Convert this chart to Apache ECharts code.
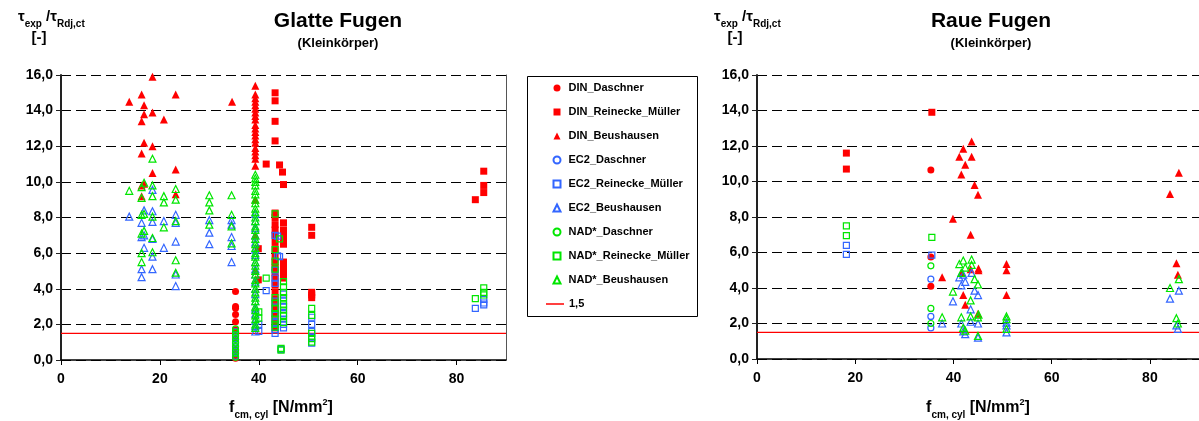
<!DOCTYPE html>
<html><head><meta charset="utf-8">
<script src="https://cdn.jsdelivr.net/npm/echarts@6/dist/echarts.min.js"></script>
<style>html,body{margin:0;padding:0;background:#fff}#c{width:1199px;height:421px}</style>
</head><body><div id="c"></div>
<script>
// ---------- axis ticks ----------
const xTicks = [0, 20, 40, 60, 80];
const yMin = 0, yMax = 16, yStep = 2;
const xMin = 0, xMax = 90;
const refLevel = 1.5;

const names = ['DIN_Daschner','DIN_Reinecke_Müller','DIN_Beushausen',
  'EC2_Daschner','EC2_Reinecke_Müller','EC2_Beushausen',
  'NAD*_Daschner','NAD*_Reinecke_Müller','NAD*_Beushausen'];
const refName = '1,5';

// ---------- Glatte Fugen (left) ----------
const gDINDasch = [[35.3,3.85],[35.3,3.0],[35.3,2.9],[35.3,2.55],[35.3,2.15],[35.3,1.7],[35.3,1.2],[35.3,0.6],[35.3,0.3],[35.3,0.1]];
const gDINRein = [[43.3,15.0],[43.3,14.55],[43.3,13.4],[43.3,12.3],[41.5,11.0],[44.2,10.95],[44.8,10.55],[45.0,9.85],
  [43.3,8.25],[43.3,8.0],[43.3,7.6],[43.3,7.3],[43.3,7.0],[43.3,6.6],[43.3,6.2],[43.3,5.8],[43.3,5.5],[43.3,5.2],[43.3,4.9],
  [43.3,4.6],[43.3,4.2],[43.3,3.8],[43.3,3.4],[43.3,3.0],[43.3,2.6],[43.3,2.2],[43.3,1.8],
  [45.0,7.7],[45.0,7.3],[45.0,7.1],[45.0,6.8],[45.0,6.5],[45.0,5.5],[45.0,5.2],[45.0,4.9],[45.0,4.6],
  [39.9,6.25],[39.9,4.5],[50.7,7.45],[50.7,7.0],[50.7,3.8],[50.7,3.65],[50.7,3.5],
  [85.5,10.6],[85.5,9.8],[85.5,9.4],[83.8,9.0]];
const gDINBeus = [[13.8,14.5],[16.3,14.9],[16.8,14.3],[16.8,13.8],[16.3,13.4],[16.8,12.2],[16.3,11.6],[16.3,9.8],[16.8,9.9],[16.3,9.2],
  [18.5,15.9],[18.5,13.9],[18.5,12.0],[18.5,10.5],[20.8,13.5],[23.2,14.9],[23.2,10.7],[23.2,9.3],[34.6,14.5],
  [39.3,15.4],[39.3,14.9],[39.3,14.7],[39.3,14.5],[39.3,14.3],[39.3,14.1],[39.3,13.9],[39.3,13.7],[39.3,13.5],[39.3,13.2],
  [39.3,13.0],[39.3,12.8],[39.3,12.6],[39.3,12.4],[39.3,12.2],[39.3,11.9],[39.3,11.7],[39.3,11.5],[39.3,11.3],[39.3,10.9],
  [39.3,9.0],[39.3,7.0],[39.3,5.0]];
const gEC2Dasch = [[35.3,1.6],[35.3,1.4],[35.3,1.2],[35.3,1.0],[35.3,0.8],[35.3,0.6],[35.3,0.4],[35.3,0.2]];
const gEC2Rein = [[43.8,6.95],[43.8,5.85],[43.3,7.0],[43.3,5.05],[44.2,5.8],[43.3,4.6],[43.3,4.3],[43.3,3.3],[43.3,2.9],[43.3,2.5],[43.3,2.1],[43.3,1.7],[43.3,1.5],
  [45.0,3.7],[45.0,3.3],[45.0,3.0],[45.0,2.6],[45.0,2.3],[45.0,2.0],[45.0,1.8],[41.5,3.9],[40.0,1.6],[40.0,2.0],[44.5,0.6],
  [50.7,2.4],[50.7,2.0],[50.7,1.6],[50.7,1.3],[50.7,0.95],[85.5,3.4],[85.5,3.2],[85.5,3.1],[83.8,2.9]];
const gEC2Beus = [[13.8,8.05],[16.3,7.7],[16.8,8.4],[18.5,9.55],[18.5,8.35],[18.5,7.75],[20.8,7.8],[23.2,8.15],[23.2,7.7],
  [16.3,6.9],[16.8,7.0],[18.5,6.8],[20.8,6.3],[23.2,6.65],[16.8,6.3],[18.5,5.8],[16.3,5.1],[16.3,4.65],[18.5,5.1],[23.2,4.8],[23.2,4.15],
  [30.0,7.85],[30.0,7.15],[30.0,6.5],[34.5,7.85],[34.5,7.6],[34.5,6.9],[34.5,6.4],[34.5,5.5],
  [39.3,8.2],[39.3,7.8],[39.3,7.4],[39.3,7.0],[39.3,6.6],[39.3,6.2],[39.3,5.9],[39.3,5.5],[39.3,5.1],[39.3,4.8],
  [39.3,4.4],[39.3,4.0],[39.3,3.7],[39.3,3.3],[39.3,2.9],[39.3,2.6],[39.3,2.2],[39.3,1.9],[39.3,1.6]];
const gNADDasch = [[35.3,1.75],[35.3,1.55],[35.3,1.35],[35.3,1.15],[35.3,0.95],[35.3,0.75],[35.3,0.55],[35.3,0.35],[35.3,0.15]];
const gNADRein = [[43.3,8.2],[43.3,6.2],[43.3,5.55],[43.3,5.1],[43.3,3.5],[43.3,3.2],[43.3,2.9],[43.3,2.6],[43.3,2.3],[43.3,2.0],[43.3,1.85],
  [44.2,6.8],[45.0,4.4],[45.0,4.1],[45.0,3.8],[45.0,3.5],[45.0,3.1],[45.0,2.8],[45.0,2.5],[45.0,2.1],[41.5,4.6],[40.0,2.7],[40.0,2.35],
  [44.5,0.55],[44.5,0.65],[50.7,2.9],[50.7,2.5],[50.7,1.5],[50.7,1.2],[50.7,1.0],[85.5,4.05],[85.5,3.8],[85.5,3.65],[83.8,3.45]];
const gNADBeus = [[13.8,9.5],[18.5,11.3],[16.8,9.95],[16.3,9.7],[18.5,9.8],[18.5,9.2],[16.3,9.1],[20.8,9.2],[20.8,8.85],
  [23.2,9.6],[23.2,9.0],[23.2,7.8],[16.8,8.2],[16.3,8.15],[18.5,8.05],[20.8,7.45],[16.8,7.25],[16.3,7.1],[18.5,6.85],
  [16.3,6.0],[18.5,6.05],[16.3,5.5],[23.2,5.6],[23.2,4.9],[30.0,9.25],[30.0,8.85],[30.0,8.4],[30.0,7.6],
  [34.5,9.25],[34.5,8.15],[34.5,7.5],[34.5,6.55],
  [39.3,10.4],[39.3,10.2],[39.3,10.0],[39.3,9.8],[39.3,9.5],[39.3,9.3],[39.3,9.0],[39.3,8.8],[39.3,8.5],[39.3,8.3],
  [39.3,8.0],[39.3,7.8],[39.3,7.5],[39.3,7.3],[39.3,7.0],[39.3,6.8],[39.3,6.5],[39.3,6.3],[39.3,6.0],[39.3,5.8],
  [39.3,5.5],[39.3,5.3],[39.3,5.0],[39.3,4.8],[39.3,4.5],[39.3,4.3],[39.3,4.0],[39.3,3.8],[39.3,3.5],[39.3,3.3],
  [39.3,3.0],[39.3,2.8],[39.3,2.5],[39.3,2.3],[39.3,2.0],[39.3,1.8]];

// ---------- Raue Fugen (right) ----------
const rDINDasch = [[35.4,10.65],[35.4,5.75],[35.4,4.1]];
const rDINRein = [[18.2,11.6],[18.2,10.7],[35.6,13.9]];
const rDINBeus = [[43.7,12.25],[42.0,11.85],[41.2,11.4],[43.7,11.4],[42.4,10.95],[41.6,10.4],[44.3,9.8],[45.0,9.25],[39.9,7.9],[43.5,7.0],
  [37.7,4.6],[45.1,5.1],[45.1,5.0],[43.5,5.05],[41.6,4.85],[42.0,3.6],[42.4,3.05],[45.0,2.55],[50.8,5.35],[50.8,5.0],[50.8,3.6],
  [85.9,10.5],[84.1,9.3],[85.4,5.4],[85.7,4.75]];
const rEC2Dasch = [[35.4,4.5],[35.4,2.4],[35.4,1.75]];
const rEC2Rein = [[18.2,6.4],[18.2,5.9],[35.6,5.85]];
const rEC2Beus = [[41.2,4.6],[42.0,4.75],[43.7,4.85],[42.4,4.35],[41.6,4.15],[44.3,3.85],[45.0,3.6],[39.9,3.25],[43.5,2.8],
  [37.7,2.0],[41.6,2.0],[43.5,2.1],[45.0,2.0],[42.0,1.55],[42.4,1.4],[45.0,1.2],[50.8,2.05],[50.8,1.9],[50.8,1.5],
  [85.9,3.85],[84.1,3.4],[85.4,1.9],[85.7,1.7]];
const rNADDasch = [[35.4,5.25],[35.4,2.85],[35.4,2.0]];
const rNADRein = [[18.2,7.5],[18.2,6.95],[35.6,6.85]];
const rNADBeus = [[41.2,5.35],[42.0,5.55],[43.7,5.6],[43.7,5.3],[42.4,5.15],[41.6,4.85],[44.3,4.5],[45.0,4.2],[39.9,3.8],[43.5,3.3],
  [37.7,2.35],[41.6,2.35],[43.5,2.4],[45.0,2.35],[45.1,2.5],[42.0,1.75],[42.4,1.6],[45.0,1.3],[50.8,2.4],[50.8,2.25],[50.8,1.7],
  [85.9,4.5],[84.1,4.0],[85.4,2.3],[85.7,2.0]];

const leftSets = [gDINDasch,gDINRein,gDINBeus,gEC2Dasch,gEC2Rein,gEC2Beus,gNADDasch,gNADRein,gNADBeus];
const rightSets = [rDINDasch,rDINRein,rDINBeus,rEC2Dasch,rEC2Rein,rEC2Beus,rNADDasch,rNADRein,rNADBeus];

// ---------- styles ----------
const RED = '#ff0000', BLUE = '#3366ff', GREEN = '#00e600';
const FONT = '"Liberation Sans", Arial, sans-serif';
const styles = [
  {symbol:'circle', size:7, color:RED, fill:true},
  {symbol:'rect', size:7, color:RED, fill:true},
  {symbol:'triangle', size:8, color:RED, fill:true},
  {symbol:'circle', size:6, color:BLUE, fill:false},
  {symbol:'rect', size:6, color:BLUE, fill:false},
  {symbol:'triangle', size:7, color:BLUE, fill:false},
  {symbol:'circle', size:6, color:GREEN, fill:false},
  {symbol:'rect', size:6, color:GREEN, fill:false},
  {symbol:'triangle', size:7, color:GREEN, fill:false}
];

const chart = echarts.init(document.getElementById('c'), null, {renderer:'canvas'});

function yAxisMain(gi){
  return {type:'value', gridIndex:gi, min:yMin, max:yMax, interval:yStep,
    axisLine:{show:true, lineStyle:{color:'#222', width:2}},
    axisTick:{show:true, inside:false, length:5, lineStyle:{color:'#222'}},
    axisLabel:{color:'#000', fontWeight:'bold', fontSize:14, fontFamily:FONT, margin:8,
      formatter:v => v.toFixed(1).replace('.', ',')},
    splitLine:{show:true, lineStyle:{color:'#000', type:[10,5], width:1}}};
}
function yAxisBorder(gi){
  return {type:'value', gridIndex:gi, min:yMin, max:yMax, interval:yStep, position:'right',
    axisLine:{show:true, lineStyle:{color:'#555', width:1}},
    axisTick:{show:false}, axisLabel:{show:false}, splitLine:{show:false}};
}
function xAxis(gi){
  return {type:'value', gridIndex:gi, min:xMin, max:xMax, interval:20,
    axisLine:{show:true, onZero:false, lineStyle:{color:'#000', width:1.5}},
    axisTick:{show:true, length:5, customValues:xTicks, lineStyle:{color:'#000'}},
    axisLabel:{color:'#000', fontWeight:'bold', fontSize:14, fontFamily:FONT, margin:12, customValues:xTicks},
    splitLine:{show:false}};
}

const series = [];
[leftSets, rightSets].forEach((sets, gi) => {
  sets.forEach((d, i) => {
    const s = styles[i];
    series.push({name:names[i], type:'scatter', xAxisIndex:gi, yAxisIndex:gi*2, data:d,
      symbol:s.symbol, symbolSize:s.size, symbolKeepAspect:true, z:3+i,
      itemStyle: s.fill ? {color:s.color, borderColor:s.color, borderWidth:0, opacity:1}
                        : {color:'rgba(255,255,255,0)', borderColor:s.color, borderWidth:1.2, opacity:1},
      emphasis:{disabled:true}, animation:false});
  });
  series.push({name:refName, type:'line', xAxisIndex:gi, yAxisIndex:gi*2,
    data:[[xMin, refLevel],[xMax, refLevel]], symbol:'none', showSymbol:false,
    lineStyle:{color:RED, width:1.2}, itemStyle:{color:RED}, z:2, animation:false, silent:true});
});

const tauTitle = (x) => ({type:'text', x:x, y:17, style:{
  text:'{t|τ}{s|exp}{t| /τ}{s|Rdj,ct}', fill:'#000', align:'left', verticalAlign:'middle',
  rich:{t:{fontSize:15, fontWeight:'bold', fontFamily:FONT, lineHeight:18, verticalAlign:'middle'},
        s:{fontSize:10, fontWeight:'bold', fontFamily:FONT, lineHeight:12, verticalAlign:'bottom', padding:[0,0,-3,0]}}}});
const unitTitle = (x) => ({type:'text', x:x, y:38, style:{text:'[-]', fill:'#000', font:'bold 15px '+FONT, align:'center', verticalAlign:'middle'}});
const mainTitle = (x, t) => ({type:'group', children:[
  {type:'text', x:x, y:21, style:{text:t, fill:'#000', font:'bold 21px '+FONT, align:'center', verticalAlign:'middle'}},
  {type:'text', x:x, y:43, style:{text:'(Kleinkörper)', fill:'#000', font:'bold 13px '+FONT, align:'center', verticalAlign:'middle'}}]});
const xTitle = (x) => ({type:'text', x:x, y:408, style:{
  text:'{f|f}{s|cm, cyl}{f| [N/mm}{p|2}{f|]}', fill:'#000', align:'center', verticalAlign:'middle',
  rich:{f:{fontSize:16, fontWeight:'bold', fontFamily:FONT, lineHeight:20, verticalAlign:'middle'},
        s:{fontSize:10, fontWeight:'bold', fontFamily:FONT, lineHeight:12, verticalAlign:'bottom', padding:[0,0,-2,0]},
        p:{fontSize:9, fontWeight:'bold', fontFamily:FONT, lineHeight:12, verticalAlign:'top'}}}});

const legendText = {color:'#000', fontSize:11, fontWeight:'bold', fontFamily:FONT, lineHeight:14, padding:[0,0,0,3]};

chart.setOption({
  animation:false,
  backgroundColor:'#fff',
  grid:[
    {left:61, top:75, width:445, height:285, containLabel:false},
    {left:757, top:75, width:444, height:284, containLabel:false}
  ],
  xAxis:[xAxis(0), xAxis(1)],
  yAxis:[yAxisMain(0), yAxisBorder(0), yAxisMain(1), yAxisBorder(1)],
  legend:[{
    data: names,
    orient:'vertical', left:552.5, top:81, padding:0,
    itemWidth:7, itemHeight:7, itemGap:10,
    selectedMode:false,
    textStyle:legendText
  },{
    data: [{name:refName, icon:'rect'}],
    orient:'vertical', left:546, top:297, padding:0,
    itemWidth:18, itemHeight:1.5, itemGap:10,
    selectedMode:false,
    textStyle:{color:'#000', fontSize:11, fontWeight:'bold', fontFamily:FONT, lineHeight:14}
  }],
  graphic:[
    {type:'rect', shape:{x:527.5, y:76.5, width:170, height:240}, style:{fill:'none', stroke:'#000', lineWidth:1}, z:-1},
    tauTitle(18), unitTitle(39), mainTitle(338, 'Glatte Fugen'), xTitle(281),
    tauTitle(714), unitTitle(735), mainTitle(991, 'Raue Fugen'), xTitle(978)
  ],
  series: series
});
</script>
</body></html>
